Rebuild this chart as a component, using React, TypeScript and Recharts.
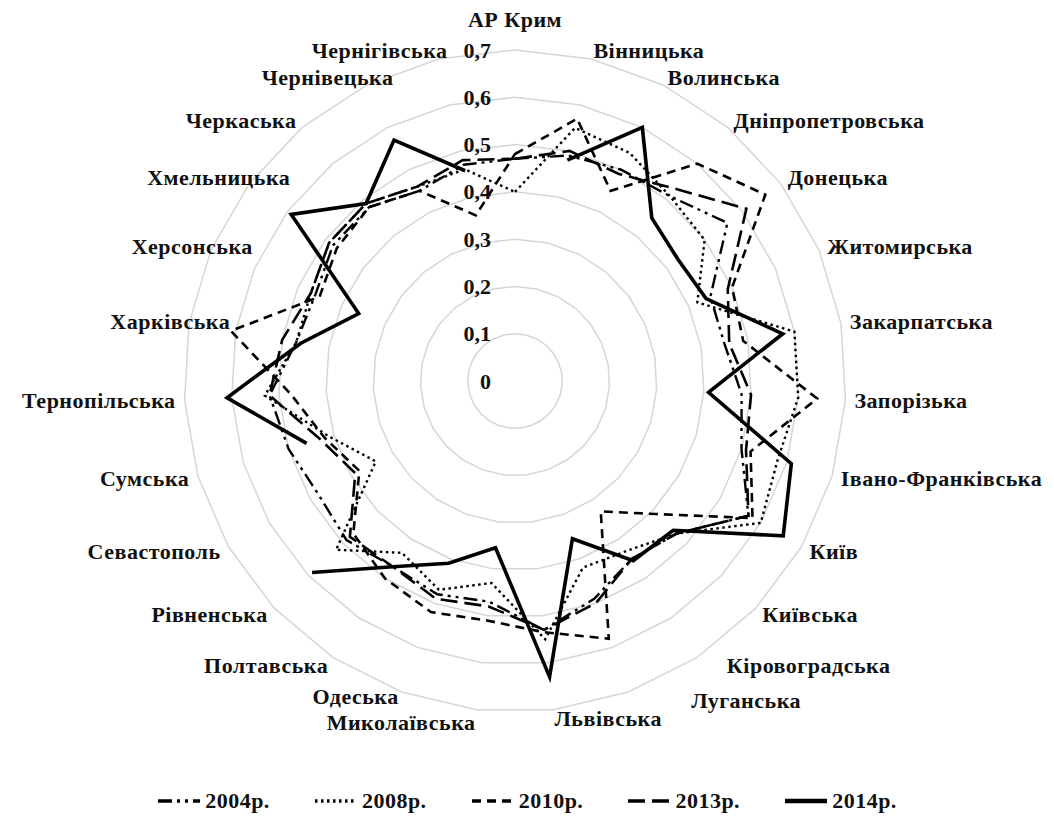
import React from "react";
import { RadarChart, Radar, PolarGrid, PolarAngleAxis, PolarRadiusAxis, Legend } from "recharts";

// Regions of Ukraine, clockwise from the top
const regions = [
  "АР Крим", "Вінницька", "Волинська", "Дніпропетровська", "Донецька", "Житомирська",
  "Закарпатська", "Запорізька", "Івано-Франківська", "Київ", "Київська", "Кіровоградська",
  "Луганська", "Львівська", "Миколаївська", "Одеська", "Полтавська", "Рівненська",
  "Севастополь", "Сумська", "Тернопільська", "Харківська", "Херсонська", "Хмельницька",
  "Черкаська", "Чернівецька", "Чернігівська",
];

const v2004 = [0.47, 0.49, 0.5, 0.51, 0.56, 0.45, 0.45, 0.48, 0.5, 0.57, 0.47, 0.45, 0.49, 0.53,
  0.47, 0.48, 0.47, 0.49, 0.48, 0.5, 0.52, 0.47, 0.46, 0.48, 0.48, 0.45, 0.47];
const v2008 = [0.4, 0.55, 0.54, 0.51, 0.5, 0.42, 0.6, 0.6, 0.58, 0.6, 0.47, 0.43, 0.42, 0.55,
  0.43, 0.47, 0.435, 0.52, 0.34, 0.41, 0.53, 0.47, 0.47, 0.49, 0.49, 0.46, 0.46];
const v2010 = [0.48, 0.57, 0.45, 0.6, 0.66, 0.5, 0.49, 0.64, 0.52, 0.58, 0.41, 0.33, 0.58, 0.535,
  0.51, 0.52, 0.5, 0.47, 0.38, 0.42, 0.475, 0.61, 0.45, 0.47, 0.48, 0.45, 0.36];
const v2013 = [0.47, 0.5, 0.49, 0.53, 0.61, 0.49, 0.46, 0.5, 0.51, 0.57, 0.47, 0.45, 0.5, 0.53,
  0.48, 0.49, 0.47, 0.48, 0.39, 0.43, 0.52, 0.5, 0.47, 0.49, 0.49, 0.46, 0.48];
// no data for Crimea and Sevastopol in 2014
const v2014 = [null, 0.48, 0.6, 0.45, 0.43, 0.44, 0.575, 0.41, 0.61, 0.655, 0.46, 0.455, 0.355, 0.63,
  0.355, 0.41, 0.47, 0.59, null, 0.46, 0.61, 0.46, 0.36, 0.59, 0.49, 0.57, 0.457];

const radiusTicks = [0, 0.1, 0.2, 0.3, 0.4, 0.5, 0.6, 0.7];

const SERIES = [
  { key: "y2004", name: "2004р.", dash: "14 5 3 5 3 5", width: 2.4 },
  { key: "y2008", name: "2008р.", dash: "2.5 3.5", width: 2.4 },
  { key: "y2010", name: "2010р.", dash: "9 6", width: 2.6 },
  { key: "y2013", name: "2013р.", dash: "17 7", width: 2.6 },
  { key: "y2014", name: "2014р.", dash: undefined, width: 3.6 },
];

const data = regions.map((region, i) => ({
  region,
  y2004: v2004[i],
  y2008: v2008[i],
  y2010: v2010[i],
  y2013: v2013[i],
  y2014: v2014[i],
}));

const W = 1038;
const H = 820;
const CX = 507;
const CY = 373;
const R = 331; // radius of the 0,7 ring
const AXIS_MAX = 1; // radius scale runs 0..1, rings drawn only up to 0,7
const FONT = "'Liberation Serif', 'Times New Roman', serif";
const FS = 22;

// Excel nudged a few labels around
const LABEL_SHIFT: Record<string, [number, number]> = {
  "Чернігівська": [11, 0],
  "Чернівецька": [31, 0],
  "Хмельницька": [48, 0],
  "Херсонська": [50, 0],
  "Харківська": [50, 0],
  "Луганська": [60, 0],
  "Кіровоградська": [25, 0],
  "Одеська": [0, -4],
  "Миколаївська": [0, 4],
};

const AngleTick = (props: any) => {
  const { x, y, payload } = props;
  const dx = x - CX;
  const dy = y - CY;
  const r = Math.hypot(dx, dy) || 1;
  const ux = dx / r;
  const uy = dy / r;
  const anchor = ux > 0.02 ? "start" : ux < -0.02 ? "end" : "middle";
  const rr = anchor === "middle" ? R + 31 : R + 9;
  const shift = LABEL_SHIFT[payload.value] || [0, 0];
  const tx = CX + ux * rr + shift[0];
  const ty = CY + uy * rr + shift[1];
  return (
    <text x={tx} y={ty} textAnchor={anchor} dominantBaseline="central" fontFamily={FONT} fontWeight="bold" fontSize={FS} letterSpacing={0.5} fill="#111">
      {payload.value}
    </text>
  );
};

const RadiusTick = (props: any) => {
  const { y, payload } = props;
  return (
    <text x={CX - 24} y={y} textAnchor="end" dominantBaseline="central" fontFamily={FONT} fontWeight="bold" fontSize={FS} fill="#111">
      {Number(payload.value).toFixed(payload.value === 0 ? 0 : 1).replace(".", ",")}
    </text>
  );
};

// polyline that breaks where a value is missing, instead of dropping to the centre
const GapShape = (dataKey: string) => (props: any) => {
  const pts: any[] = props.points || [];
  const ok = (p: any) => p && p.payload && p.payload[dataKey] != null;
  const segs: any[][] = [];
  let cur: any[] = [];
  pts.forEach((p) => {
    if (ok(p)) cur.push(p);
    else if (cur.length) {
      segs.push(cur);
      cur = [];
    }
  });
  if (cur.length) segs.push(cur);
  let d = "";
  if (segs.length === 1 && segs[0].length === pts.length) {
    d = segs[0].map((p, i) => `${i ? "L" : "M"}${p.x},${p.y}`).join("") + "Z";
  } else {
    if (segs.length > 1 && ok(pts[0]) && ok(pts[pts.length - 1])) {
      const last = segs.pop() as any[];
      segs[0] = last.concat(segs[0]);
    }
    d = segs.map((s) => s.map((p, i) => `${i ? "L" : "M"}${p.x},${p.y}`).join("")).join("");
  }
  return <path d={d} fill="none" stroke={props.stroke} strokeWidth={props.strokeWidth} strokeDasharray={props.strokeDasharray} strokeLinejoin="miter" />;
};

const renderLegend = () => (
  <div style={{ display: "flex", justifyContent: "center", gap: 44, fontFamily: FONT, fontWeight: "bold", fontSize: FS, letterSpacing: 0.5, color: "#111" }}>
    {SERIES.map((s) => (
      <div key={s.key} style={{ display: "flex", alignItems: "center" }}>
        <svg width={44} height={12} style={{ marginRight: 4 }}>
          <line x1={1} y1={6} x2={43} y2={6} stroke="#000" strokeWidth={s.key === "y2014" ? 4.5 : 3.5} strokeDasharray={s.dash} />
        </svg>
        <span>{s.name}</span>
      </div>
    ))}
  </div>
);

export default function App() {
  return (
    <div style={{ width: W, height: H, background: "#fff" }}>
      <RadarChart width={W} height={H} data={data} cx={CX} cy={CY} outerRadius={R / 0.7 * AXIS_MAX} margin={{ top: 0, right: 0, bottom: 0, left: 0 }}>
        <PolarGrid gridType="polygon" radialLines={false} stroke="#d6d6d6" strokeWidth={1.5} />
        <PolarAngleAxis dataKey="region" tick={AngleTick} tickLine={false} axisLine={false} />
        <PolarRadiusAxis
          type="number"
          angle={90}
          domain={[0, AXIS_MAX]}
          allowDataOverflow
          ticks={radiusTicks}
          tick={RadiusTick}
          axisLine={false}
          tickLine={false}
        />
        {SERIES.map((s) => (
          <Radar
            key={s.key}
            name={s.name}
            dataKey={s.key}
            stroke="#000"
            strokeWidth={s.width}
            strokeDasharray={s.dash}
            fill="none"
            fillOpacity={0}
            dot={false}
            shape={GapShape(s.key)}
            isAnimationActive={false}
          />
        ))}
        <Legend content={renderLegend} wrapperStyle={{ top: 780, left: 0, width: W }} />
      </RadarChart>
    </div>
  );
}
